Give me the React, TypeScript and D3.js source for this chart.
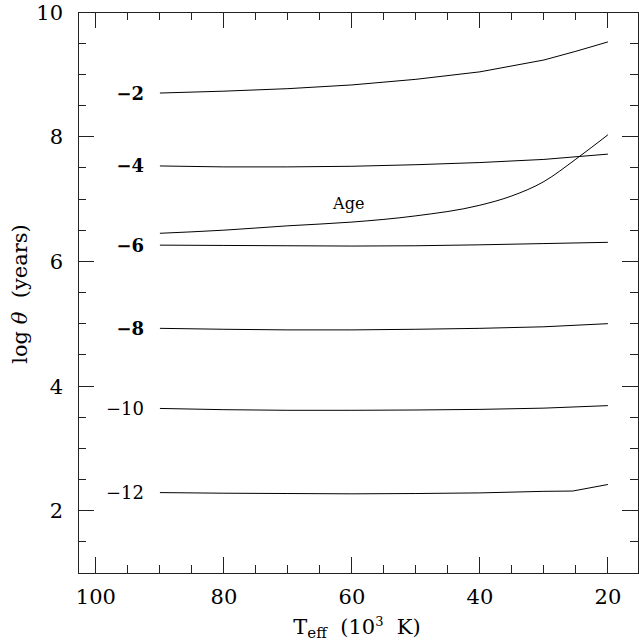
import React from "react"
import * as d3 from "d3"

const W = 639
const H = 642
const FONT = "'DejaVu Serif', serif"

// each curve: [T_eff (10^3 K), log theta]
const CURVE_M2: [number, number][] = [
  [90, 8.7], [80, 8.73], [70, 8.77], [60, 8.83], [50, 8.92], [40, 9.04], [30, 9.23], [25, 9.37], [20, 9.52],
]
const CURVE_M4: [number, number][] = [
  [90, 7.53], [80, 7.515], [70, 7.515], [60, 7.525], [50, 7.55], [40, 7.585], [30, 7.635], [20, 7.72],
]
const CURVE_AGE: [number, number][] = [
  [90, 6.45], [80, 6.5], [70, 6.57], [60, 6.63], [50, 6.73], [40, 6.9], [35, 7.05], [30, 7.28], [25, 7.64], [20, 8.03],
]
const CURVE_M6: [number, number][] = [
  [90, 6.26], [80, 6.255], [70, 6.25], [60, 6.245], [50, 6.25], [40, 6.265], [30, 6.285], [20, 6.305],
]
const CURVE_M8: [number, number][] = [
  [90, 4.925], [80, 4.91], [70, 4.9], [60, 4.9], [50, 4.91], [40, 4.925], [30, 4.95], [20, 5.0],
]
const CURVE_M10: [number, number][] = [
  [90, 3.64], [80, 3.62], [70, 3.61], [60, 3.61], [50, 3.615], [40, 3.625], [30, 3.645], [20, 3.685],
]
const CURVE_M12: [number, number][] = [
  [90, 2.29], [80, 2.28], [70, 2.275], [60, 2.27], [50, 2.275], [40, 2.285], [30, 2.31], [25.5, 2.315], [20, 2.42],
]

const CURVES = [CURVE_M2, CURVE_M4, CURVE_M6, CURVE_M8, CURVE_M10, CURVE_M12]

// curve labels: text and the log theta level they sit at
const LABELS: { text: string; y: number; bold: boolean }[] = [
  { text: "\u22122", y: 8.7, bold: true },
  { text: "\u22124", y: 7.53, bold: true },
  { text: "\u22126", y: 6.26, bold: true },
  { text: "\u22128", y: 4.925, bold: true },
  { text: "\u221210", y: 3.64, bold: false },
  { text: "\u221212", y: 2.29, bold: false },
]
const AGE_LABEL = { text: "Age", x: 60.5, y: 6.84 }

const X_MAJOR = [100, 80, 60, 40, 20]
const X_MINOR = d3.range(20, 101, 5)
const Y_MAJOR = [2, 4, 6, 8, 10]
const Y_MINOR = d3.range(1.5, 10, 0.5)

export default function App() {
  const left = 78
  const right = 638
  const top = 12
  const bottom = 573

  const x = d3.scaleLinear().domain([102.8, 15.3]).range([left, right])
  const y = d3.scaleLinear().domain([1, 10]).range([bottom, top])

  const line = d3
    .line<[number, number]>()
    .x(d => x(d[0]))
    .y(d => y(d[1]))
  const smoothLine = d3
    .line<[number, number]>()
    .x(d => x(d[0]))
    .y(d => y(d[1]))
    .curve(d3.curveMonotoneX)

  const major = 16
  const minor = 8
  const stroke = "#222"

  return (
    <div style={{ position: "absolute", left: 0, top: 0 }}>
      <svg width={W} height={H} style={{ display: "block", background: "#fff" }}>
        {/* frame */}
        <rect
          x={left}
          y={top}
          width={right - left}
          height={bottom - top}
          fill="none"
          stroke={stroke}
          strokeWidth={1}
          shapeRendering="crispEdges"
        />

        {/* x ticks, bottom and top */}
        {X_MINOR.map(t => {
          const len = X_MAJOR.includes(t) ? major : minor
          return (
            <g key={"xt" + t} stroke={stroke} shapeRendering="crispEdges">
              <line x1={x(t)} x2={x(t)} y1={bottom} y2={bottom - len} />
              <line x1={x(t)} x2={x(t)} y1={top} y2={top + len} />
            </g>
          )
        })}
        {X_MAJOR.map(t => (
          <text
            key={"xl" + t}
            x={x(t)}
            y={604}
            fontSize={21}
            fontFamily={FONT}
            textAnchor="middle"
            fill="#000"
          >
            {t}
          </text>
        ))}

        {/* y ticks, left and right */}
        {Y_MINOR.map(t => {
          const len = t % 2 === 0 ? major : minor
          return (
            <g key={"yt" + t} stroke={stroke} shapeRendering="crispEdges">
              <line x1={left} x2={left + len} y1={y(t)} y2={y(t)} />
              <line x1={right} x2={right - len} y1={y(t)} y2={y(t)} />
            </g>
          )
        })}
        {Y_MAJOR.map(t => (
          <text
            key={"yl" + t}
            x={63}
            y={y(t)}
            dy="0.36em"
            fontSize={21}
            fontFamily={FONT}
            textAnchor="end"
            fill="#000"
          >
            {t}
          </text>
        ))}

        {/* curves */}
        {CURVES.map((c, i) => (
          <path key={"c" + i} d={line(c) ?? ""} fill="none" stroke="#000" strokeWidth={1} />
        ))}
        <path d={smoothLine(CURVE_AGE) ?? ""} fill="none" stroke="#000" strokeWidth={1} />

        {/* curve labels */}
        {LABELS.map(l => (
          <text
            key={l.text}
            x={144}
            y={y(l.y)}
            dy="0.36em"
            fontSize={18}
            fontFamily={FONT}
            fontWeight={l.bold ? "bold" : "normal"}
            textAnchor="end"
            fill="#000"
          >
            {l.text}
          </text>
        ))}
        <text
          x={x(AGE_LABEL.x)}
          y={y(AGE_LABEL.y)}
          fontSize={16}
          fontFamily={FONT}
          textAnchor="middle"
          fill="#000"
        >
          {AGE_LABEL.text}
        </text>

        {/* axis titles */}
        <text
          x={357}
          y={634}
          fontSize={21}
          fontFamily={FONT}
          textAnchor="middle"
          fill="#000"
          style={{ whiteSpace: "pre" }}
        >
          T
          <tspan fontSize={15} dy={4}>eff</tspan>
          <tspan dy={-4}>{"  (10"}</tspan>
          <tspan fontSize={13} dy={-8}>3</tspan>
          <tspan dy={8}>{"  K)"}</tspan>
        </text>
        <text
          transform="translate(27, 294) rotate(-90)"
          fontSize={21}
          fontFamily={FONT}
          textAnchor="middle"
          fill="#000"
          style={{ whiteSpace: "pre" }}
        >
          {"log "}
          <tspan fontStyle="italic">θ</tspan>
          {"  (years)"}
        </text>
      </svg>
    </div>
  )
}
